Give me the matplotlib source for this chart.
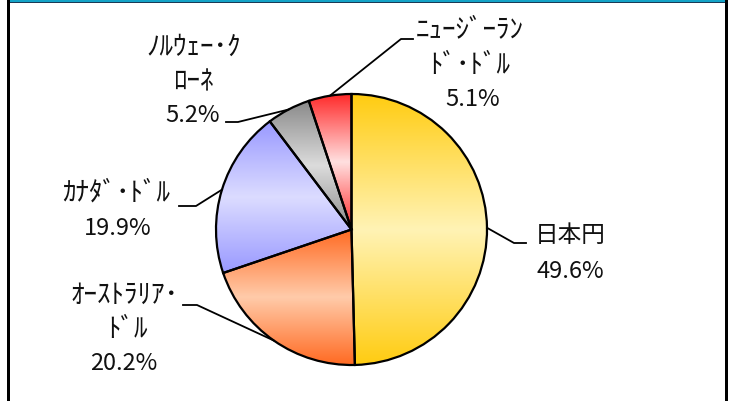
import numpy as np
import matplotlib
matplotlib.use("Agg")
import matplotlib.pyplot as plt
from matplotlib.colors import LinearSegmentedColormap
from matplotlib.lines import Line2D
from matplotlib.patches import Rectangle

plt.rcParams['font.family'] = ['Noto Sans CJK JP', 'DejaVu Sans']

# ---- data ----
label_lines = [["日本円"], ["ｵｰｽﾄﾗﾘｱ･", "ﾄﾞﾙ"], ["ｶﾅﾀﾞ･ﾄﾞﾙ"], ["ﾉﾙｳｪｰ･ｸ", "ﾛｰﾈ"], ["ﾆｭｰｼﾞｰﾗﾝ", "ﾄﾞ･ﾄﾞﾙ"]]
values = [49.6, 20.2, 19.9, 5.2, 5.1]
dark_colors = ["#FFCC11", "#FF6A22", "#9999FF", "#8A8A8A", "#FF2A2A"]
light_colors = ["#FFF3B5", "#FFCBAA", "#DCDCFF", "#DCDCDC", "#FFE0E0"]

W, H = 732, 401
CX, CY, R = 351.5, 229.5, 135.5

fig = plt.figure(figsize=(W / 100, H / 100), dpi=100)
ax = fig.add_axes([0, 0, 1, 1])

wedges, _ = ax.pie(values, startangle=90, counterclock=False, radius=1,
                   wedgeprops=dict(edgecolor="black", linewidth=1.6, facecolor="none"))

def px(x, y):
    return (x - CX) / R, (CY - y) / R

ax.set_xlim(px(0, 0)[0], px(W, 0)[0])
ax.set_ylim(px(0, H)[1], px(0, 0)[1])
ax.set_aspect('auto')
ax.axis('off')

# gradient fills
for w, dc, lc in zip(wedges, dark_colors, light_colors):
    ext = w.get_path().get_extents()
    cmap = LinearSegmentedColormap.from_list("g", [dc, lc, dc])
    grad = np.linspace(0, 1, 256).reshape(-1, 1)
    im = ax.imshow(grad, cmap=cmap, extent=[ext.x0, ext.x1, ext.y0, ext.y1],
                   origin='upper', aspect='auto', zorder=1, interpolation='bilinear')
    im.set_clip_path(w)
    w.set_zorder(2)

# labels with leader lines (pixel coordinates -> data)
pcts = [f"{v:.1f}%" for v in values]
line_pos = [[(570, 235), (570, 271)],
            [(124, 295), (127, 330), (124, 363)],
            [(116, 193), (118, 228)],
            [(194, 47), (193, 82), (193, 115)],
            [(470, 30), (470, 65), (473, 99)]]
elbows = [[(526, 243), (514, 243)],
          [(183, 305), (197, 305)],
          [(179, 206), (196, 206)],
          [(226, 122), (238, 122)],
          [(413, 39), (401, 39)]]

angles = []
start = 90.0
for v in values:
    span = v / sum(values) * 360
    angles.append(np.deg2rad(start - span / 2))
    start -= span

for lines, pct, poss, elb, ang in zip(label_lines, pcts, line_pos, elbows, angles):
    texts = lines + [pct]
    for i, (t, pos) in enumerate(zip(texts, poss)):
        tx, ty = px(*pos)
        is_kana = i < len(lines) and t != "日本円"
        ax.text(tx, ty, t, ha='center', va='center',
                fontsize=19.5 if is_kana else 17,
                color='#111111', zorder=5)
    ex, ey = np.cos(ang), np.sin(ang)
    p0 = px(*elb[0]); p1 = px(*elb[1])
    ax.add_line(Line2D([p0[0], p1[0], ex], [p0[1], p1[1], ey], color='black', lw=1.3, zorder=4))

# frame
fig.add_artist(Rectangle((7 / W, 0), 3 / W, 1, transform=fig.transFigure, color='black', lw=0))
fig.add_artist(Rectangle((725 / W, 0), 3 / W, 1, transform=fig.transFigure, color='black', lw=0))
fig.add_artist(Rectangle((10 / W, 1 - 2 / H), 715 / W, 2 / H, transform=fig.transFigure, color='#14A3C7', lw=0))
fig.add_artist(Rectangle((10 / W, 1 - 3 / H), 715 / W, 1 / H, transform=fig.transFigure, color='#1A3A55', lw=0))

fig.savefig("out.png", dpi=100)
